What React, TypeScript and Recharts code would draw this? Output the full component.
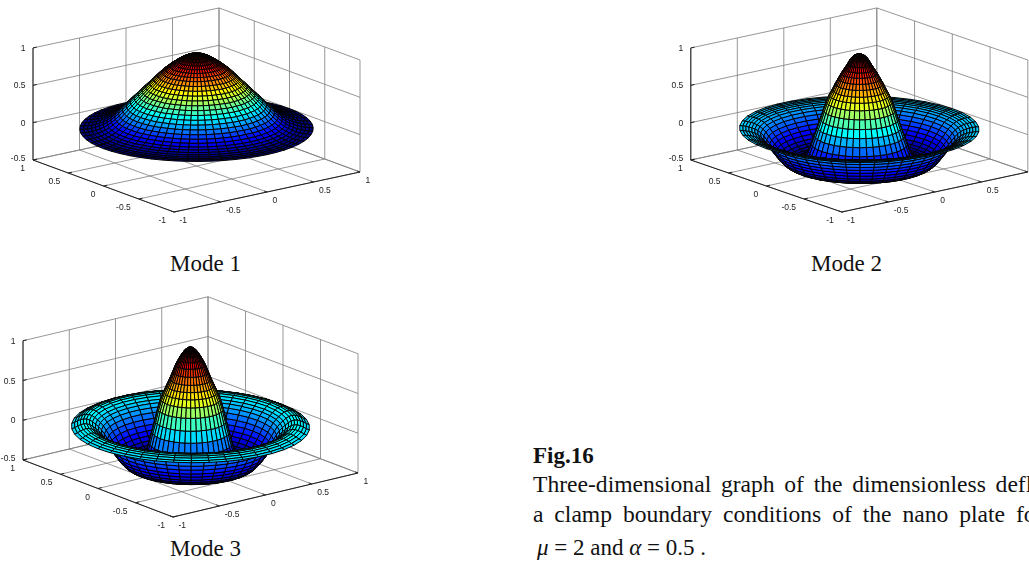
import React from 'react';
import { ScatterChart, Scatter, XAxis, YAxis } from 'recharts';

// deflection, centre (first) to clamped rim (last)
const mode1Profile = [
  1, 0.995, 0.985, 0.965, 0.94, 0.91, 0.875, 0.84, 0.8, 0.76, 0.71, 0.66, 0.61, 0.56, 0.51, 0.46,
  0.41, 0.36, 0.31, 0.26, 0.21, 0.165, 0.125, 0.09, 0.065, 0.045, 0.028, 0.015, 0.007, 0.002, 0,
];
const mode2Profile = [
  1, 0.99, 0.97, 0.93, 0.86, 0.8, 0.74, 0.67, 0.6, 0.52, 0.45, 0.36, 0.25, 0.13, 0.02, -0.09, -0.2,
  -0.3, -0.37, -0.42, -0.45, -0.47, -0.48, -0.48, -0.47, -0.45, -0.42, -0.38, -0.33, -0.28, -0.23,
  -0.18, -0.13, -0.09, -0.06, -0.04, -0.025, -0.015, -0.008, -0.002, 0,
];
const mode3Profile = [
  1, 0.99, 0.96, 0.91, 0.85, 0.78, 0.69, 0.6, 0.52, 0.44, 0.35, 0.23, 0.08, -0.06, -0.2, -0.32,
  -0.41, -0.46, -0.49, -0.5, -0.5, -0.49, -0.47, -0.44, -0.4, -0.35, -0.3, -0.24, -0.18, -0.12,
  -0.07, -0.03, 0, 0.03, 0.05, 0.06, 0.06, 0.05, 0.035, 0.015, 0,
];
const planeTicks = [-1, -0.5, 0, 0.5, 1];
const heightTicks = [-0.5, 0, 0.5, 1];

const WIDTH = 1029;
const HEIGHT = 563;

// where each axes box sits in the figure: floor centre and the screen vector of one unit on each axis
const panels = [
  { profile: mode1Profile, sectors: 60, cx: 196.5, cy: 166, ex: [93, -20], ey: [-70.5, -26], ez: 74.7 },
  { profile: mode2Profile, sectors: 42, cx: 859.3, cy: 166, ex: [93, -20], ey: [-75.5, -26], ez: 74.7 },
  { profile: mode3Profile, sectors: 42, cx: 190.5, cy: 466.5, ex: [92.5, -22], ey: [-75, -28.5], ez: 79.5 },
];
type Panel = (typeof panels)[number];

const project = (p: Panel, x: number, y: number, z: number) => ({
  px: p.cx + x * p.ex[0] + y * p.ey[0],
  py: p.cy + x * p.ex[1] + y * p.ey[1] - (z + 0.5) * p.ez,
});

const jet = (t: number) => {
  const f = (c: number) => Math.round(255 * Math.max(0, Math.min(1, 1.5 - Math.abs(4 * t - c))));
  return `rgb(${f(3)},${f(2)},${f(1)})`;
};

// surface of revolution: one vertex per ring/sector, quads painted far to near
const buildSurface = (p: Panel) => {
  const rings = p.profile.length - 1;
  const vertices: { px: number; py: number }[] = [];
  const corners: { x: number; y: number; z: number }[] = [];
  for (let i = 0; i <= rings; i++) {
    for (let j = 0; j <= p.sectors; j++) {
      const a = (j / p.sectors) * 2 * Math.PI;
      const x = (i / rings) * Math.cos(a);
      const y = (i / rings) * Math.sin(a);
      vertices.push(project(p, x, y, p.profile[i]));
      corners.push({ x, y, z: p.profile[i] });
    }
  }
  const zMin = Math.min(...p.profile);
  const zMax = Math.max(...p.profile);
  const row = p.sectors + 1;
  const quads: { ids: number[]; color: string; depth: number }[] = [];
  for (let i = 0; i < rings; i++) {
    for (let j = 0; j < p.sectors; j++) {
      const ids = [i * row + j, i * row + j + 1, (i + 1) * row + j + 1, (i + 1) * row + j];
      const mid = ids.reduce(
        (s, k) => ({ x: s.x + corners[k].x / 4, y: s.y + corners[k].y / 4, z: s.z + corners[k].z / 4 }),
        { x: 0, y: 0, z: 0 },
      );
      quads.push({
        ids,
        color: jet((mid.z - zMin) / (zMax - zMin)),
        depth: -0.527 * mid.x - 0.687 * mid.y + 0.5 * mid.z,
      });
    }
  }
  quads.sort((a, b) => a.depth - b.depth);
  return { vertices, quads };
};

// pairs of end points, so one series can hold all the lines of one style
const buildGrid = (p: Panel) => {
  const out: { px: number; py: number }[] = [];
  const seg = (a: number[], b: number[]) => out.push(project(p, a[0], a[1], a[2]), project(p, b[0], b[1], b[2]));
  planeTicks.forEach((t) => {
    seg([t, 1, -0.5], [t, 1, 1]);
    seg([1, t, -0.5], [1, t, 1]);
    seg([t, -1, -0.5], [t, 1, -0.5]);
    seg([-1, t, -0.5], [1, t, -0.5]);
  });
  heightTicks.forEach((z) => {
    seg([-1, 1, z], [1, 1, z]);
    seg([1, 1, z], [1, -1, z]);
  });
  return out;
};

const buildAxes = (p: Panel) => {
  const out: { px: number; py: number }[] = [];
  const seg = (a: number[], b: number[]) => out.push(project(p, a[0], a[1], a[2]), project(p, b[0], b[1], b[2]));
  seg([-1, 1, -0.5], [-1, 1, 1]);
  seg([-1, 1, -0.5], [-1, -1, -0.5]);
  seg([-1, -1, -0.5], [1, -1, -0.5]);
  planeTicks.forEach((t) => {
    seg([t, -1, -0.5], [t, -0.96, -0.5]);
    seg([-1, t, -0.5], [-0.96, t, -0.5]);
  });
  heightTicks.forEach((z) => seg([-1, 1, z], [-0.96, 1, z]));
  return out;
};

// the Mode 2 box runs off the right of the figure, its last x label is not in the picture
const buildLabels = (p: Panel) =>
  [
    ...heightTicks.map((z) => ({ ...project(p, -1, 1, z), text: String(z), anchor: 'end', dx: -7.5, dy: z === -0.5 ? 1 : 3 })),
    ...planeTicks.map((t) => ({ ...project(p, -1, t, -0.5), text: String(t), anchor: 'end', dx: -8, dy: 11 })),
    ...planeTicks.map((t) => ({ ...project(p, t, -1, -0.5), text: String(t), anchor: 'start', dx: 5.5, dy: 11 })),
  ].filter((l) => l.px + l.dx < WIDTH - 8);

const noMarker = () => <g />;

const drawSegments = (stroke: string, strokeWidth: number) => (props: any) => (
  <g>
    {props.points.filter((_: any, i: number) => i % 2 === 0).map((a: any, i: number) => {
      const b = props.points[i * 2 + 1];
      return <line key={i} x1={a.x} y1={a.y} x2={b.x} y2={b.y} stroke={stroke} strokeWidth={strokeWidth} />;
    })}
  </g>
);

const drawQuads = (quads: { ids: number[]; color: string }[]) => (props: any) => (
  <g>
    {quads.map((q, i) => (
      <polygon
        key={i}
        points={q.ids.map((k) => `${props.points[k].x},${props.points[k].y}`).join(' ')}
        fill={q.color}
        stroke="#000"
        strokeWidth={1}
      />
    ))}
  </g>
);

const tickLabel = (props: any) => {
  const { cx, cy, payload } = props;
  return (
    <text x={cx + payload.dx} y={cy + payload.dy} textAnchor={payload.anchor} fontSize={8.5} fontFamily="Liberation Sans" fill="#222">
      {payload.text}
    </text>
  );
};

const serif = '"Liberation Serif"';
const captionStyle = (left: number, baseline: number): React.CSSProperties => ({
  position: 'absolute',
  left,
  top: baseline - 19.3,
  fontFamily: serif,
  fontSize: 23,
  lineHeight: 1,
  whiteSpace: 'nowrap',
  color: '#111',
});

export default function App() {
  return (
    <div style={{ position: 'fixed', left: 0, top: 0, width: WIDTH, height: HEIGHT, overflow: 'hidden', background: '#fff' }}>
      <div style={{ filter: 'blur(0.4px)' }}>
        <ScatterChart width={WIDTH} height={HEIGHT} margin={{ top: 0, right: 0, bottom: 0, left: 0 }}>
          <XAxis type="number" dataKey="px" domain={[0, WIDTH]} hide />
          <YAxis type="number" dataKey="py" domain={[0, HEIGHT]} reversed hide />
          {panels.map((p, n) => {
            const surface = buildSurface(p);
            return (
              <React.Fragment key={n}>
                <Scatter data={buildGrid(p)} shape={noMarker} line={drawSegments('#7d7d7d', 0.8)} isAnimationActive={false} />
                <Scatter data={buildAxes(p)} shape={noMarker} line={drawSegments('#222', 1)} isAnimationActive={false} />
                <Scatter data={surface.vertices} shape={noMarker} line={drawQuads(surface.quads)} isAnimationActive={false} />
                <Scatter data={buildLabels(p)} shape={tickLabel} isAnimationActive={false} />
              </React.Fragment>
            );
          })}
        </ScatterChart>
      </div>
      <div style={captionStyle(170, 271)}>Mode 1</div>
      <div style={captionStyle(811, 271)}>Mode 2</div>
      <div style={captionStyle(170, 556)}>Mode 3</div>
      <div style={{ ...captionStyle(533, 463), fontWeight: 'bold' }}>Fig.16</div>
      <div style={{ ...captionStyle(533, 492), fontSize: 23.6, wordSpacing: 3.8 }}>Three-dimensional graph of the dimensionless deflection for</div>
      <div style={{ ...captionStyle(533, 522), fontSize: 23.6, wordSpacing: 5 }}>a clamp boundary conditions of the nano plate for</div>
      <div style={captionStyle(537, 555)}>
        <i>μ</i> = 2 and <i>α</i> = 0.5 .
      </div>
    </div>
  );
}
